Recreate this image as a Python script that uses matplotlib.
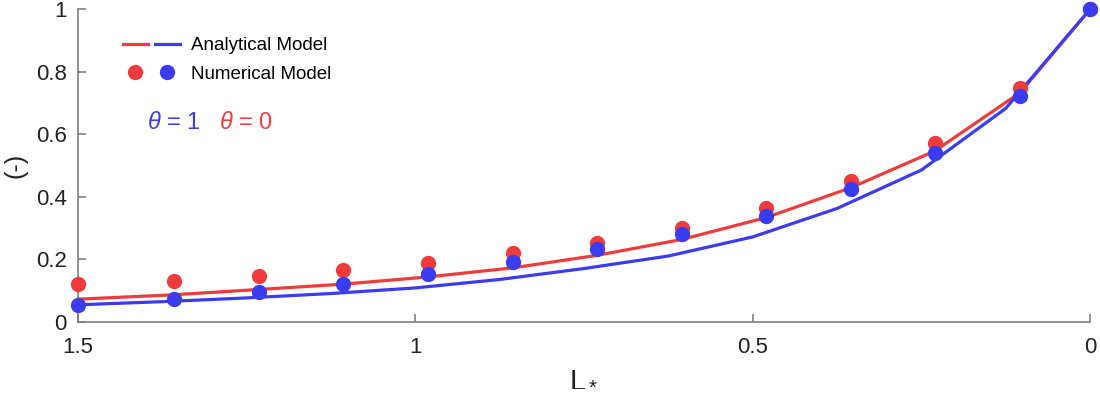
import matplotlib
matplotlib.use("Agg")
import matplotlib.pyplot as plt
from matplotlib.legend_handler import HandlerTuple
from matplotlib.ticker import FormatStrFormatter

plt.rcParams["font.family"] = ["Liberation Sans", "DejaVu Sans"]
plt.rcParams["mathtext.fontset"] = "custom"
plt.rcParams["mathtext.it"] = "Liberation Sans:italic"
plt.rcParams["mathtext.rm"] = "Liberation Sans"

RED = "#ef3b3b"
BLUE = "#3b3bef"
GREY = "#7f7f7f"

# numerical model (markers) and analytical theta=0 curve share these abscissae
x_num = [1.5, 1.358, 1.232, 1.107, 0.982, 0.856, 0.731, 0.605, 0.480, 0.355, 0.230, 0.104, 0.0]
num_theta0 = [0.120, 0.130, 0.146, 0.166, 0.190, 0.219, 0.254, 0.301, 0.366, 0.451, 0.573, 0.747, 1.0]
num_theta1 = [0.054, 0.072, 0.096, 0.123, 0.155, 0.192, 0.233, 0.280, 0.338, 0.424, 0.541, 0.724, 1.0]
ana_theta0 = [0.073, 0.087, 0.104, 0.121, 0.144, 0.173, 0.213, 0.264, 0.334, 0.429, 0.547, 0.733, 1.0]

# analytical theta=1 curve on a regular grid
x_ana1 = [1.5, 1.375, 1.25, 1.125, 1.0, 0.875, 0.75, 0.625, 0.5, 0.375, 0.25, 0.125, 0.0]
ana_theta1 = [0.055, 0.065, 0.077, 0.091, 0.109, 0.136, 0.171, 0.211, 0.272, 0.363, 0.486, 0.683, 1.0]

x_ticks = [1.5, 1.0, 0.5, 0.0]
y_ticks = [0, 0.2, 0.4, 0.6, 0.8, 1.0]

fig = plt.figure(figsize=(11, 4), dpi=100)
ax = fig.add_axes([0.071, 0.195, 0.92, 0.782])

l_red, = ax.plot(x_num, ana_theta0, color=RED, lw=2.3, zorder=2)
l_blue, = ax.plot(x_ana1, ana_theta1, color=BLUE, lw=2.3, zorder=2)
m_red, = ax.plot(x_num, num_theta0, "o", color=RED, ms=10, clip_on=False, zorder=3)
m_blue, = ax.plot(x_num, num_theta1, "o", color=BLUE, ms=10, clip_on=False, zorder=4)

ax.set_xlim(1.5, 0)
ax.set_ylim(0, 1)
ax.set_xticks(x_ticks)
ax.set_yticks(y_ticks)
ax.xaxis.set_major_formatter(FormatStrFormatter("%g"))
ax.yaxis.set_major_formatter(FormatStrFormatter("%g"))

for side in ["top", "right"]:
    ax.spines[side].set_visible(False)
for side in ["left", "bottom"]:
    ax.spines[side].set_color(GREY)
    ax.spines[side].set_linewidth(1.2)
ax.tick_params(direction="in", length=6, width=1.2, color=GREY,
               labelsize=16, labelcolor="#222222")
ax.tick_params(axis="x", pad=11)
ax.tick_params(axis="y", pad=8)

ax.set_xlabel("L$_*$", fontsize=21, color="#222222", labelpad=4)
ax.set_ylabel("(-)", fontsize=18, color="#222222", labelpad=6)

ax.legend([(l_red, l_blue), (m_red, m_blue)], ["Analytical Model", "Numerical Model"],
          handler_map={tuple: HandlerTuple(ndivide=None, pad=0.4)},
          loc="upper left", bbox_to_anchor=(0.028, 0.965), frameon=False,
          fontsize=13.5, handlelength=3.0, handletextpad=0.6, labelspacing=0.6)

ax.text(0.068, 0.636, r"$\theta$ = 1", color=BLUE, fontsize=17,
        transform=ax.transAxes, va="center")
ax.text(0.139, 0.636, r"$\theta$ = 0", color=RED, fontsize=17,
        transform=ax.transAxes, va="center")

fig.savefig("out.png", dpi=100)
